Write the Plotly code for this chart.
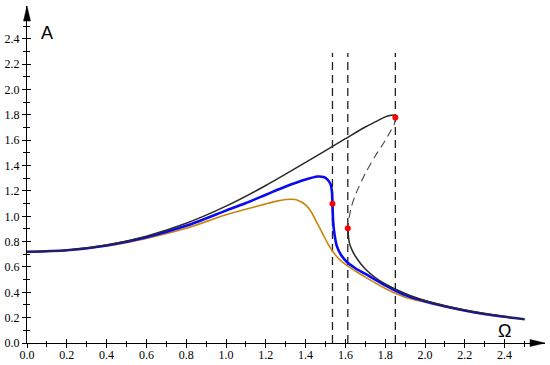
import plotly.graph_objects as go

# ---- data ----
black_up_x = [0.0, 0.2, 0.4, 0.6, 0.8, 1.0, 1.2, 1.4, 1.6, 1.7, 1.75, 1.8, 1.83, 1.845, 1.853]
black_up_y = [0.72, 0.733, 0.773, 0.843, 0.945, 1.08, 1.243, 1.425, 1.613, 1.705, 1.745, 1.785, 1.797, 1.80, 1.782]

black_unst_x = [1.853, 1.845, 1.83, 1.8, 1.75, 1.7, 1.65, 1.63, 1.62, 1.615, 1.613]
black_unst_y = [1.782, 1.725, 1.681, 1.598, 1.476, 1.339, 1.168, 1.073, 1.0, 0.94, 0.905]

black_low_x = [1.613, 1.615, 1.62, 1.63, 1.65, 1.7, 1.75, 1.8, 1.9, 2.0, 2.1, 2.2, 2.3, 2.4, 2.5]
black_low_y = [0.905, 0.85, 0.79, 0.745, 0.685, 0.584, 0.517, 0.466, 0.391, 0.336, 0.294, 0.26, 0.232, 0.209, 0.1895]

blue_x = [0.0, 0.2, 0.4, 0.6, 0.8, 1.0, 1.1, 1.2, 1.3, 1.4, 1.46, 1.49, 1.51, 1.525, 1.532,
          1.535, 1.538, 1.545, 1.557, 1.58, 1.61, 1.65, 1.7, 1.8, 1.9, 2.0, 2.1, 2.2, 2.3, 2.4, 2.5]
blue_y = [0.72, 0.732, 0.77, 0.835, 0.925, 1.045, 1.105, 1.17, 1.235, 1.29, 1.314, 1.31, 1.29, 1.255, 1.2,
          1.10, 0.97, 0.86, 0.765, 0.69, 0.635, 0.59, 0.545, 0.455, 0.378, 0.329, 0.29, 0.257, 0.229, 0.207, 0.188]

orange_x = [0.0, 0.2, 0.4, 0.6, 0.8, 1.0, 1.1, 1.2, 1.25, 1.3, 1.33, 1.36, 1.4, 1.43, 1.46, 1.49,
            1.515, 1.54, 1.57, 1.6, 1.65, 1.7, 1.8, 1.9, 2.0, 2.1, 2.2, 2.3, 2.4, 2.5]
orange_y = [0.72, 0.731, 0.765, 0.825, 0.905, 1.012, 1.055, 1.098, 1.118, 1.132, 1.135, 1.127, 1.09, 1.03, 0.94, 0.85,
            0.775, 0.715, 0.66, 0.62, 0.568, 0.52, 0.43, 0.362, 0.322, 0.284, 0.252, 0.226, 0.205, 0.186]

vline_x = [1.535, 1.612, 1.851]
vline_top = 2.29

dot_x = [1.535, 1.612, 1.851]
dot_y = [1.10, 0.905, 1.78]

x_major = [0.0, 0.2, 0.4, 0.6, 0.8, 1.0, 1.2, 1.4, 1.6, 1.8, 2.0, 2.2, 2.4]
x_minor = [0.1, 0.3, 0.5, 0.7, 0.9, 1.1, 1.3, 1.5, 1.7, 1.9, 2.1, 2.3, 2.5]
y_major = [0.0, 0.2, 0.4, 0.6, 0.8, 1.0, 1.2, 1.4, 1.6, 1.8, 2.0, 2.2, 2.4]
y_minor = [0.1, 0.3, 0.5, 0.7, 0.9, 1.1, 1.3, 1.5, 1.7, 1.9, 2.1, 2.3, 2.5]

x_label = "Ω"
y_label = "A"

# ---- figure ----
X_RANGE = [0, 2.603]
Y_RANGE = [0, 2.66]
SERIF = "Liberation Serif, Times New Roman, serif"
SANS = "Liberation Sans, Arial, sans-serif"

fig = go.Figure()

# vertical dashed lines
for vx in vline_x:
    fig.add_trace(go.Scatter(x=[vx, vx], y=[0, vline_top], mode="lines",
                             line=dict(color="#222222", width=1.3, dash="8px,5px"),
                             hoverinfo="skip", showlegend=False))

fig.add_trace(go.Scatter(x=orange_x, y=orange_y, mode="lines",
                         line=dict(color="#c8860e", width=1.6, shape="spline", smoothing=0.8),
                         showlegend=False))
fig.add_trace(go.Scatter(x=blue_x, y=blue_y, mode="lines",
                         line=dict(color="#0a0af0", width=2.6, shape="spline", smoothing=0.8),
                         showlegend=False))
fig.add_trace(go.Scatter(x=black_up_x, y=black_up_y, mode="lines",
                         line=dict(color="#2a2a2a", width=1.5, shape="spline", smoothing=0.8),
                         showlegend=False))
fig.add_trace(go.Scatter(x=black_unst_x, y=black_unst_y, mode="lines",
                         line=dict(color="#444444", width=1.1, dash="8px,5px", shape="spline", smoothing=0.8),
                         showlegend=False))
fig.add_trace(go.Scatter(x=black_low_x, y=black_low_y, mode="lines",
                         line=dict(color="#2a2a2a", width=1.5, shape="spline", smoothing=0.8),
                         showlegend=False))
fig.add_trace(go.Scatter(x=dot_x, y=dot_y, mode="markers",
                         marker=dict(color="#ff0000", size=6),
                         showlegend=False))

# invisible trace to make the overlay axes (inside ticks) exist
fig.add_trace(go.Scatter(x=[x_major[0]], y=[y_major[0]], xaxis="x2", yaxis="y2",
                         mode="markers", marker=dict(opacity=0), hoverinfo="skip", showlegend=False))

axis_common = dict(showgrid=False, zeroline=False, fixedrange=True, automargin=False)

fig.update_layout(
    width=550, height=365,
    margin=dict(l=27, r=5, t=6, b=22),
    paper_bgcolor="white", plot_bgcolor="white",
    hovermode=False,
    xaxis=dict(range=X_RANGE, autorange=False, showline=True, linecolor="black", linewidth=1.2,
               ticks="outside", ticklen=4, tickwidth=1, tickcolor="black",
               tickvals=x_major, tickformat=".1f", ticklabelstandoff=-4,
               tickfont=dict(family=SERIF, size=12, color="black"),
               minor=dict(tickvals=x_minor, ticks="outside", ticklen=2.5, tickwidth=1, tickcolor="black"),
               **axis_common),
    yaxis=dict(range=Y_RANGE, autorange=False, showline=True, linecolor="black", linewidth=1.2,
               ticks="outside", ticklen=4, tickwidth=1, tickcolor="black",
               tickvals=y_major, tickformat=".1f", ticklabelstandoff=0,
               tickfont=dict(family=SERIF, size=12, color="black"),
               minor=dict(tickvals=y_minor, ticks="outside", ticklen=2.5, tickwidth=1, tickcolor="black"),
               **axis_common),
    xaxis2=dict(range=X_RANGE, autorange=False, overlaying="x", side="bottom", anchor="y2",
                showline=False, ticks="inside", ticklen=4, tickwidth=1, tickcolor="black",
                tickvals=x_major, showticklabels=False,
                minor=dict(tickvals=x_minor, ticks="inside", ticklen=2.5, tickwidth=1, tickcolor="black"),
                **axis_common),
    yaxis2=dict(range=Y_RANGE, autorange=False, overlaying="y", side="left", anchor="x2",
                showline=False, ticks="inside", ticklen=4, tickwidth=1, tickcolor="black",
                tickvals=y_major, showticklabels=False,
                minor=dict(tickvals=y_minor, ticks="inside", ticklen=2.5, tickwidth=1, tickcolor="black"),
                **axis_common),
    showlegend=False,
)

# arrowheads at the ends of the axes
fig.add_shape(type="path", xref="paper", yref="paper", xsizemode="pixel", ysizemode="pixel",
              xanchor=1, yanchor=0, path="M0,0 L-15,3.5 L-15,-3.5 Z",
              fillcolor="black", line=dict(color="black", width=0.5), layer="above")
fig.add_shape(type="path", xref="paper", yref="paper", xsizemode="pixel", ysizemode="pixel",
              xanchor=0, yanchor=1, path="M0,0 L-3.5,-15 L3.5,-15 Z",
              fillcolor="black", line=dict(color="black", width=0.5), layer="above")

# axis titles
fig.add_annotation(x=0.1, y=2.444, xref="x", yref="y", text=y_label, showarrow=False,
                   font=dict(family=SANS, size=18, color="black"))
fig.add_annotation(x=2.398, y=0.095, xref="x", yref="y", text=x_label, showarrow=False,
                   font=dict(family=SANS, size=18, color="black"))

fig.write_html("out.html", config={"displayModeBar": False, "staticPlot": True},
               post_script="document.body.style.margin='0';document.body.style.padding='0';")
